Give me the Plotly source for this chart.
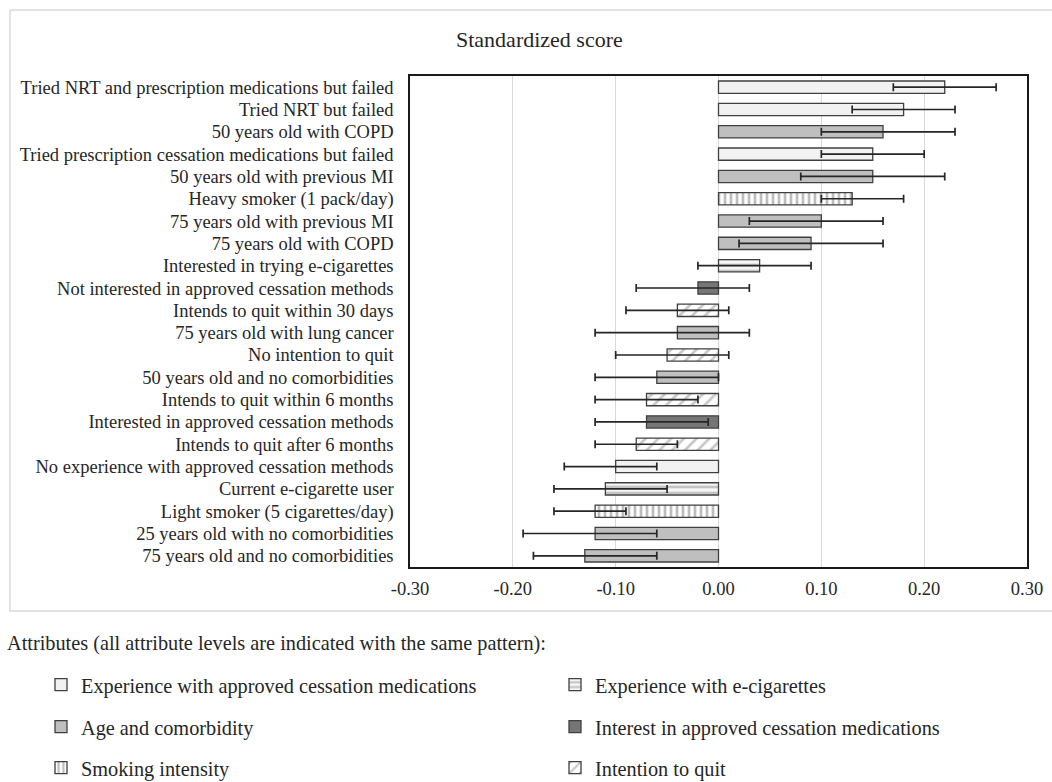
import plotly.graph_objects as go

# ---------------- data ----------------
categories = [
    "Tried NRT and prescription medications but failed",
    "Tried NRT but failed",
    "50 years old with COPD",
    "Tried prescription cessation medications but failed",
    "50 years old with previous MI",
    "Heavy smoker (1 pack/day)",
    "75 years old with previous MI",
    "75 years old with COPD",
    "Interested in trying e-cigarettes",
    "Not interested in approved cessation methods",
    "Intends to quit within 30 days",
    "75 years old with lung cancer",
    "No intention to quit",
    "50 years old and no comorbidities",
    "Intends to quit within 6 months",
    "Interested in approved cessation methods",
    "Intends to quit after 6 months",
    "No experience with approved cessation methods",
    "Current e-cigarette user",
    "Light smoker (5 cigarettes/day)",
    "25 years old with no comorbidities",
    "75 years old and no comorbidities",
]
scores = [0.22, 0.18, 0.16, 0.15, 0.15, 0.13, 0.10, 0.09, 0.04, -0.02, -0.04,
          -0.04, -0.05, -0.06, -0.07, -0.07, -0.08, -0.10, -0.11, -0.12, -0.12, -0.13]
ci_low = [0.17, 0.13, 0.10, 0.10, 0.08, 0.10, 0.03, 0.02, -0.02, -0.08, -0.09,
          -0.12, -0.10, -0.12, -0.12, -0.12, -0.12, -0.15, -0.16, -0.16, -0.19, -0.18]
ci_high = [0.27, 0.23, 0.23, 0.20, 0.22, 0.18, 0.16, 0.16, 0.09, 0.03, 0.01,
           0.03, 0.01, 0.00, -0.02, -0.01, -0.04, -0.06, -0.05, -0.09, -0.06, -0.06]
attribute = ["exp", "exp", "age", "exp", "age", "smk", "age", "age", "ecig", "int", "quit",
             "age", "quit", "age", "quit", "int", "quit", "exp", "ecig", "smk", "age", "age"]

attr_names = {
    "exp": "Experience with approved cessation medications",
    "ecig": "Experience with e-cigarettes",
    "age": "Age and comorbidity",
    "int": "Interest in approved cessation medications",
    "smk": "Smoking intensity",
    "quit": "Intention to quit",
}
tick_vals = [-0.30, -0.20, -0.10, 0.00, 0.10, 0.20, 0.30]
tick_text = ["-0.30", "-0.20", "-0.10", "0.00", "0.10", "0.20", "0.30"]

# ---------------- styles ----------------
W, H = 1052, 782
ML, MR, MT, MB = 410, 25, 76, 215
FONT = "Liberation Serif, Times New Roman, serif"
TXT = "#262626"
EDGE = "#404040"

styles = {
    "exp": dict(color="#f2f2f2"),
    "age": dict(color="#bfbfbf"),
    "int": dict(color="#767676"),
    "smk": dict(color="white", pattern=dict(shape="|", fgcolor="#bdbdbd", bgcolor="white",
                                            size=6, solidity=0.45, fillmode="replace")),
    "ecig": dict(color="white", pattern=dict(shape="-", fgcolor="#c4c4c4", bgcolor="#f7f7f7",
                                             size=6, solidity=0.45, fillmode="replace")),
    "quit": dict(color="white", pattern=dict(shape="/", fgcolor="#c8c8c8", bgcolor="white",
                                             size=9, solidity=0.3, fillmode="replace")),
}
legend_pos = {  # (left x px, center y px)
    "exp": (41, 685), "ecig": (555, 685),
    "age": (41, 727), "int": (555, 727),
    "smk": (41, 768), "quit": (555, 768),
}
order = ["exp", "ecig", "age", "int", "smk", "quit"]

fig = go.Figure()
layout_legends = {}
for i, key in enumerate(order):
    idx = [j for j, a in enumerate(attribute) if a == key]
    xs = [scores[j] for j in idx]
    ys = [categories[j] for j in idx]
    plus = [ci_high[j] - scores[j] for j in idx]
    minus = [scores[j] - ci_low[j] for j in idx]
    st = styles[key]
    marker = dict(color=st["color"], line=dict(color=EDGE, width=1.3))
    if "pattern" in st:
        marker["pattern"] = st["pattern"]
    lname = "legend" if i == 0 else f"legend{i+1}"
    fig.add_trace(go.Bar(
        x=xs, y=ys, orientation="h", name=attr_names[key], width=0.55,
        marker=marker,
        error_x=dict(type="data", symmetric=False, array=plus, arrayminus=minus,
                     color="#262626", thickness=1.7, width=4),
        legend=lname, showlegend=True,
    ))
    lx, ly = legend_pos[key]
    layout_legends[lname] = dict(
        x=lx / W, y=1 - ly / H, xref="container", yref="container",
        xanchor="left", yanchor="middle", bgcolor="rgba(0,0,0,0)",
        font=dict(family=FONT, size=20.3, color=TXT), itemwidth=30,
    )

fig.update_layout(
    width=W, height=H, barmode="overlay",
    margin=dict(l=ML, r=MR, t=MT, b=MB, autoexpand=False),
    paper_bgcolor="white", plot_bgcolor="white",
    font=dict(family=FONT, size=18.5, color=TXT),
    **layout_legends,
)
fig.update_xaxes(
    range=[-0.30, 0.30], tickvals=tick_vals, ticktext=tick_text, tickangle=0,
    automargin=False, ticklabelstandoff=4,
    showgrid=True, gridcolor="#d9d9d9", gridwidth=1,
    zeroline=True, zerolinecolor="#d9d9d9", zerolinewidth=1.2,
    showline=True, linecolor="#1a1a1a", linewidth=1.5, mirror=True,
    ticks="", tickfont=dict(family=FONT, size=18.5, color=TXT), layer="above traces",
)
fig.update_yaxes(
    categoryorder="array", categoryarray=categories[::-1], automargin=False,
    showgrid=False, showline=True, linecolor="#1a1a1a", linewidth=1.5, mirror=True,
    ticks="", ticklabelstandoff=11, tickfont=dict(family=FONT, size=18.5, color=TXT),
)

# outer frame and texts
pw, ph = W - ML - MR, H - MT - MB
def px_x(x): return (x - ML) / pw
def px_y(y): return (H - MB - y) / ph

fig.add_shape(type="rect", xref="paper", yref="paper",
              x0=px_x(10), x1=px_x(1070), y0=px_y(611), y1=px_y(10),
              line=dict(color="#d9d9d9", width=1.5), layer="below")
fig.add_annotation(text="Standardized score", xref="paper", yref="paper",
                   x=px_x(539), y=px_y(40), xanchor="center", yanchor="middle",
                   showarrow=False, font=dict(family=FONT, size=22, color=TXT))
fig.add_annotation(text="Attributes (all attribute levels are indicated with the same pattern):",
                   xref="paper", yref="paper", x=px_x(5), y=px_y(643),
                   xanchor="left", yanchor="middle",
                   showarrow=False, font=dict(family=FONT, size=20.3, color=TXT))

fig.write_html("out.html", config={"displayModeBar": False},
               post_script="document.body.style.margin='0';")
